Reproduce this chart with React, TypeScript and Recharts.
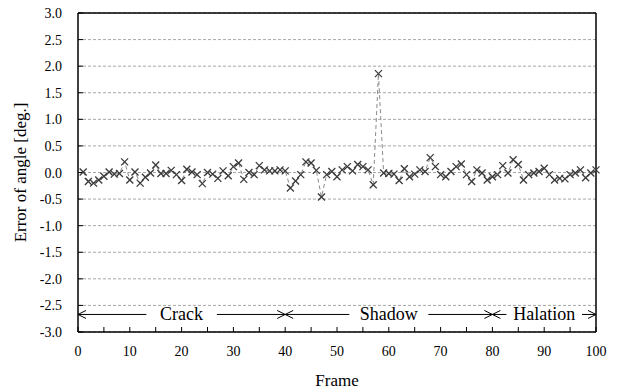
import React from 'react'
import {
  LineChart,
  Line,
  XAxis,
  YAxis,
  CartesianGrid,
  ReferenceLine,
} from 'recharts'

// angle error per frame, frames 1..100
const angleErrors = [
  0.01, -0.17, -0.2, -0.14, -0.07, 0.01, -0.03, -0.02, 0.2, -0.14,
  0.01, -0.2, -0.09, -0.01, 0.14, -0.02, -0.02, 0.04, -0.04, -0.15,
  0.06, 0.01, -0.04, -0.21, 0.0, -0.03, -0.11, 0.03, -0.06, 0.11,
  0.18, -0.13, 0.0, -0.04, 0.13, 0.05, 0.03, 0.03, 0.05, 0.03,
  -0.29, -0.16, -0.04, 0.2, 0.18, 0.04, -0.46, -0.04, 0.02, -0.08,
  0.05, 0.11, 0.03, 0.15, 0.11, 0.05, -0.23, 1.86, -0.01, -0.02,
  -0.03, -0.15, 0.07, -0.08, -0.03, 0.05, 0.02, 0.28, 0.11, -0.04,
  -0.08, 0.02, 0.11, 0.16, -0.04, -0.17, 0.05, -0.01, -0.14, -0.08,
  -0.04, 0.13, -0.01, 0.24, 0.15, -0.14, -0.04, -0.01, 0.02, 0.08,
  -0.04, -0.14, -0.11, -0.12, -0.04, -0.01, 0.05, -0.1, -0.01, 0.05,
]

const xTicks = [0, 5, 10, 15, 20, 25, 30, 35, 40, 45, 50, 55, 60, 65, 70, 75, 80, 85, 90, 95, 100]
const yTicks = [-3, -2.5, -2, -1.5, -1, -0.5, 0, 0.5, 1, 1.5, 2, 2.5, 3]

const sectionNames = ['Crack', 'Shadow', 'Halation']
const sectionStarts = [0, 40, 80]
const sectionEnds = [40, 80, 100]
const sectionLevel = -2.67

const data = angleErrors.map((v, i) => ({ frame: i + 1, error: v }))

const FONT = 'Liberation Serif'

const CrossDot = (props: any) => {
  const { cx, cy, index } = props
  if (cx == null || cy == null) return null
  const s = 3.5
  return (
    <g key={`dot-${index}`} stroke="#3a3a3a" strokeWidth={1.3}>
      <line x1={cx - s} y1={cy - s} x2={cx + s} y2={cy + s} />
      <line x1={cx - s} y1={cy + s} x2={cx + s} y2={cy - s} />
    </g>
  )
}

const XTick = (props: any) => {
  const { x, y, payload } = props
  const v = payload.value
  if (v % 10 !== 0) return null
  return (
    <text x={x} y={y} dy={10} textAnchor="middle" fontFamily={FONT} fontSize={14} fill="#000">
      {v}
    </text>
  )
}

const YTick = (props: any) => {
  const { x, y, payload } = props
  return (
    <text x={x} y={y} dy={5} textAnchor="end" fontFamily={FONT} fontSize={14} fill="#000">
      {payload.value.toFixed(1)}
    </text>
  )
}

const makeArrow = (label: string) => (p: any) => {
  const { x1, x2, y1 } = p
  const mid = (x1 + x2) / 2
  const textW = label.length * 8.5
  const pad = Math.min(14, (x2 - x1 - textW) / 2 - 14)
  const half = textW / 2 + pad
  const h = 8
  const w = 4
  return (
    <g>
      <line x1={x1} y1={y1} x2={mid - half} y2={y1} stroke="#000" strokeWidth={1} />
      <line x1={mid + half} y1={y1} x2={x2} y2={y1} stroke="#000" strokeWidth={1} />
      <polyline
        points={`${x1 + h},${y1 - w} ${x1},${y1} ${x1 + h},${y1 + w}`}
        fill="none"
        stroke="#000"
        strokeWidth={1}
      />
      <polyline
        points={`${x2 - h},${y1 - w} ${x2},${y1} ${x2 - h},${y1 + w}`}
        fill="none"
        stroke="#000"
        strokeWidth={1}
      />
      <text
        x={mid}
        y={y1}
        dy={6}
        textAnchor="middle"
        fontFamily={FONT}
        fontSize={18}
        fill="#000"
      >
        {label}
      </text>
    </g>
  )
}

const YTitle = (props: any) => {
  const vb = props.viewBox || {}
  const x = 20
  const y = (vb.y || 0) + (vb.height || 0) / 2
  return (
    <text
      x={x}
      y={y}
      dy={6}
      transform={`rotate(-90 ${x} ${y})`}
      textAnchor="middle"
      fontFamily={FONT}
      fontSize={17}
      fill="#000"
    >
      Error of angle [deg.]
    </text>
  )
}

const XTitle = (props: any) => {
  const vb = props.viewBox || {}
  const x = (vb.x || 0) + (vb.width || 0) / 2
  return (
    <text x={x} y={386} textAnchor="middle" fontFamily={FONT} fontSize={17} fill="#000">
      Frame
    </text>
  )
}

export default function App() {
  return (
    <div
      style={{
        position: 'absolute',
        left: 0,
        top: 0,
        background: '#fff',
        fontFamily: FONT,
      }}
    >
      <LineChart
        width={620}
        height={392}
        data={data}
        margin={{ top: 13, right: 24, left: 0, bottom: 0 }}
      >
        <CartesianGrid
          horizontal
          vertical={false}
          stroke="#a6a6a6"
          strokeDasharray="3 2"
        />
        <XAxis
          dataKey="frame"
          type="number"
          domain={[0, 100]}
          ticks={xTicks}
          interval={0}
          height={60}
          tickSize={-5}
          tickMargin={19}
          axisLine={{ stroke: '#000', strokeWidth: 1.5 }}
          tickLine={{ stroke: '#000' }}
          tick={<XTick />}
          label={<XTitle />}
        />
        <YAxis
          type="number"
          domain={[-3, 3]}
          ticks={yTicks}
          interval={0}
          width={78}
          tickSize={-5}
          tickMargin={21}
          axisLine={{ stroke: '#000', strokeWidth: 1.5 }}
          tickLine={{ stroke: '#000' }}
          tick={<YTick />}
          label={<YTitle />}
        />
        <ReferenceLine y={3} stroke="#000" strokeWidth={1.5} />
        <ReferenceLine x={100} stroke="#000" strokeWidth={1.5} />
        {sectionNames.map((name, i) => (
          <ReferenceLine
            key={name}
            segment={[
              { x: sectionStarts[i], y: sectionLevel },
              { x: sectionEnds[i], y: sectionLevel },
            ]}
            shape={makeArrow(name)}
          />
        ))}
        <Line
          type="linear"
          dataKey="error"
          stroke="#8a8a8a"
          strokeWidth={1}
          strokeDasharray="4 3"
          dot={<CrossDot />}
          activeDot={false}
          isAnimationActive={false}
        />
      </LineChart>
    </div>
  )
}
